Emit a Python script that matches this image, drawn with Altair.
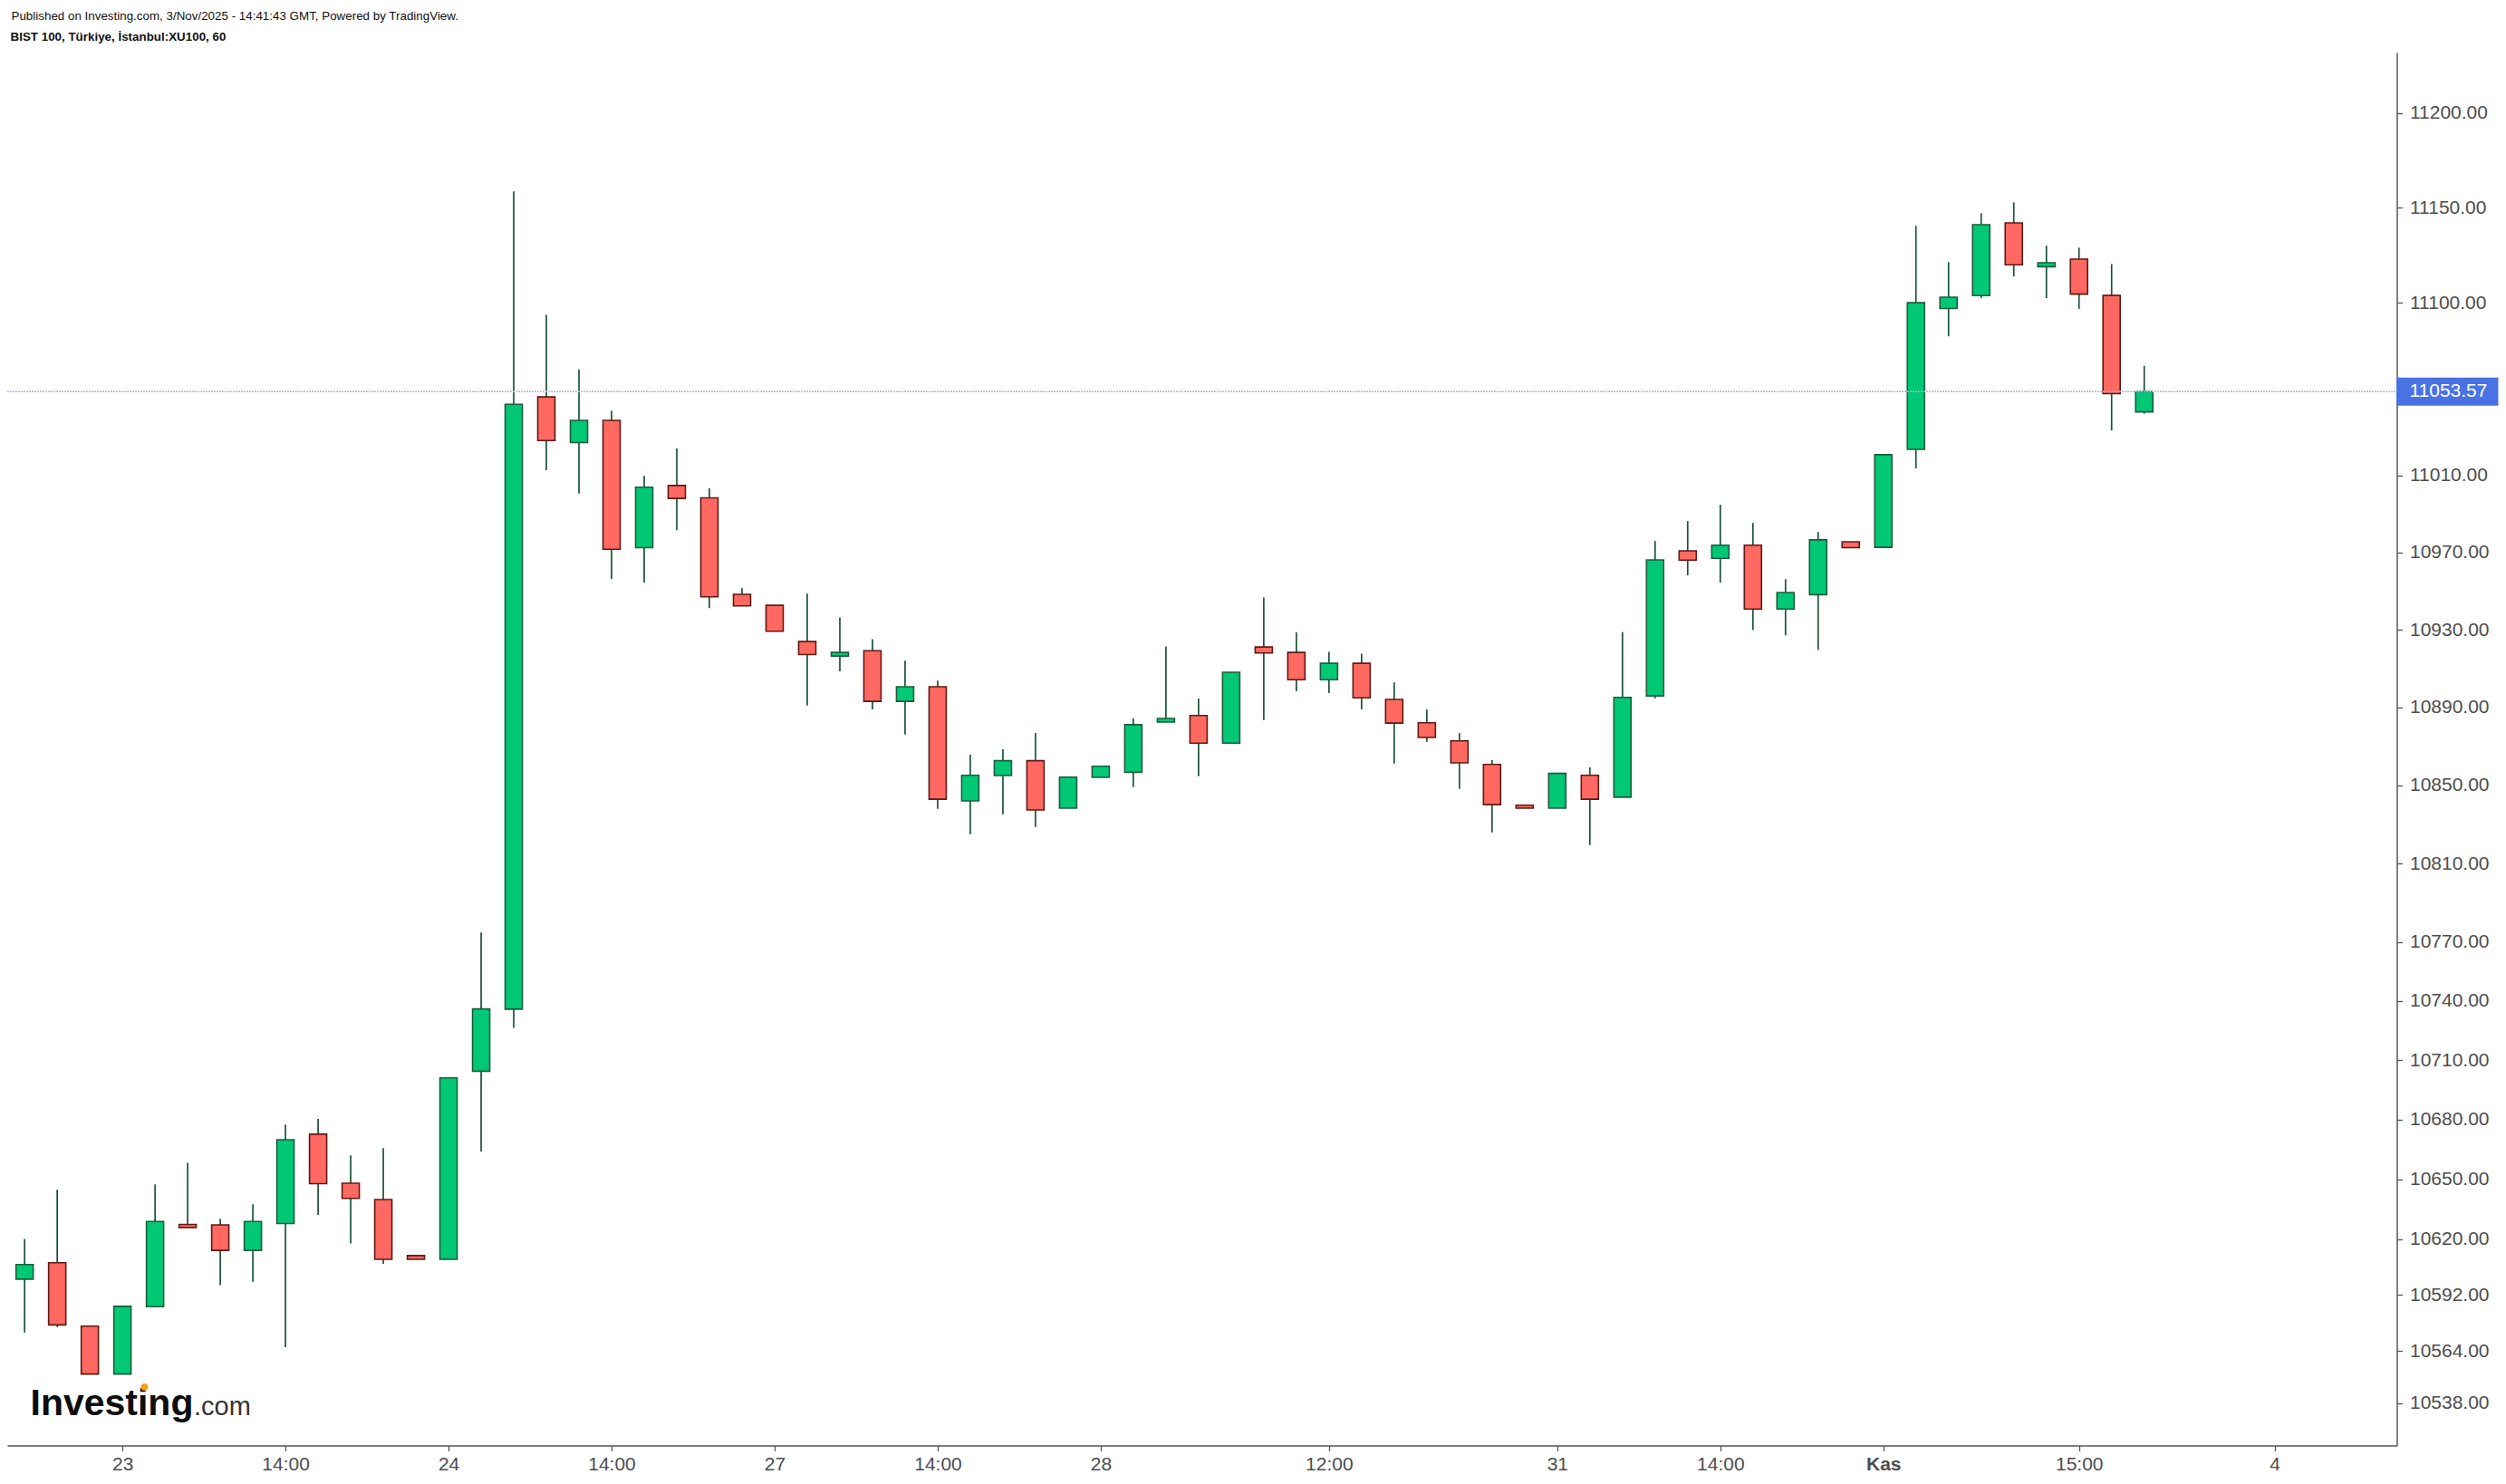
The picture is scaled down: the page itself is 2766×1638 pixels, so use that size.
import altair as alt
import pandas as pd

# ---- data (hourly candles, Oct 22 -> Nov 3) ----
opens = [10599.9, 10608.1, 10576.4, 10552.5, 10586.1, 10627.3, 10627.1, 10614.3, 10627.8, 10672.7,
         10648.0, 10639.8, 10611.7, 10609.8, 10704.5, 10735.9, 11050.8, 11027.0, 11038.6, 10972.4,
         11004.7, 10998.3, 10948.3, 10942.6, 10923.9, 10916.4, 10919.2, 10893.1, 10900.6, 10842.0,
         10855.0, 10862.6, 10838.3, 10854.1, 10856.7, 10882.5, 10885.8, 10871.6, 10921.1, 10918.3,
         10904.2, 10912.7, 10894.1, 10882.1, 10872.8, 10860.7, 10839.8, 10838.3, 10855.1, 10843.9,
         10895.9, 10970.8, 10966.9, 10973.7, 10940.7, 10948.1, 10975.5, 10972.6, 11023.5, 11097.1,
         11103.8, 11142.0, 11119.0, 11123.0, 11103.9, 11043.0]
highs = [10620.0, 10644.7, 10576.4, 10586.3, 10647.4, 10658.3, 10630.2, 10637.4, 10677.6, 10680.4,
         10662.0, 10665.7, 10611.7, 10701.1, 10774.8, 11158.6, 11093.8, 11065.2, 11043.6, 11009.7,
         11023.9, 11003.2, 10951.4, 10942.6, 10948.6, 10936.4, 10925.1, 10914.0, 10903.8, 10865.7,
         10868.5, 10876.8, 10854.2, 10859.8, 10884.3, 10921.4, 10894.5, 10908.1, 10946.7, 10928.8,
         10918.6, 10917.7, 10902.8, 10888.9, 10876.8, 10862.9, 10839.8, 10856.1, 10859.2, 10928.8,
         10975.9, 10986.2, 10994.7, 10985.3, 10956.1, 10980.6, 10975.5, 11020.7, 11140.5, 11121.4,
         11147.1, 11152.8, 11130.0, 11129.0, 11120.4, 11067.1]
lows = [10573.2, 10575.9, 10552.5, 10552.5, 10586.1, 10625.8, 10596.9, 10598.6, 10565.9, 10632.1,
        10617.8, 10607.6, 10609.8, 10609.8, 10664.0, 10726.4, 11012.6, 11000.5, 10956.3, 10954.4,
        10981.5, 10941.2, 10942.3, 10929.2, 10890.9, 10908.5, 10889.0, 10876.0, 10838.0, 10825.0,
        10835.2, 10828.7, 10838.3, 10854.1, 10849.1, 10882.5, 10854.7, 10871.6, 10883.5, 10898.3,
        10897.4, 10889.0, 10861.2, 10872.3, 10848.2, 10825.9, 10838.3, 10838.3, 10819.4, 10843.9,
        10894.6, 10958.1, 10954.4, 10929.9, 10927.1, 10919.5, 10972.4, 10972.6, 11013.6, 11082.5,
        11102.5, 11113.9, 11102.5, 11096.8, 11033.4, 11042.1]
closes = [10607.2, 10577.0, 10552.5, 10586.3, 10628.8, 10625.8, 10614.3, 10628.8, 10669.9, 10647.8,
          10640.4, 10609.8, 10609.8, 10701.1, 10736.0, 11047.0, 11028.1, 11038.6, 10971.6, 11003.8,
          10998.0, 10947.0, 10942.3, 10929.2, 10917.2, 10918.3, 10893.1, 10900.6, 10842.9, 10855.1,
          10862.6, 10837.4, 10854.2, 10859.8, 10881.1, 10884.3, 10871.6, 10908.1, 10918.0, 10904.2,
          10912.7, 10894.9, 10881.9, 10874.5, 10861.5, 10840.1, 10838.3, 10856.1, 10842.9, 10895.1,
          10966.1, 10966.0, 10973.7, 10940.7, 10949.2, 10976.5, 10972.4, 11020.7, 11100.1, 11103.0,
          11141.1, 11120.0, 11121.1, 11104.6, 11052.5, 11053.57]

tick_idx = [3, 8, 13, 18, 23, 28, 33, 40, 47, 52, 57, 63, 69]
tick_labels = ["23", "14:00", "24", "14:00", "27", "14:00", "28", "12:00", "31", "14:00", "Kas", "15:00", "4"]
bold_tick = 57
y_ticks = [10538, 10564, 10592, 10620, 10650, 10680, 10710, 10740, 10770, 10810,
           10850, 10890, 10930, 10970, 11010, 11100, 11150, 11200]
last_price = 11053.57

title_line = "Published on Investing.com, 3/Nov/2025 - 14:41:43 GMT, Powered by TradingView."
subtitle_line = "BIST 100, Türkiye, İstanbul:XU100, 60"
logo_main = "Investing"
logo_tail = ".com"

# ---- styling ----
W, H = 2637.5, 1537.4
UP, DOWN = "#00c875", "#ff6961"
UP_B, DOWN_B = "#1d5c3d", "#5e1a15"
WICK = "#1a5437"
AXC = "#555555"
LAB = "#4d4d4d"
FONT = "Liberation Sans"
NARROW = "Liberation Sans Narrow, Arial Narrow, Liberation Sans, Arial, sans-serif"

df = pd.DataFrame({"i": list(range(len(opens))), "open": opens, "high": highs,
                   "low": lows, "close": closes})
df["dir"] = ["up" if c >= o else "down" for o, c in zip(opens, closes)]

xscale = alt.Scale(domain=[-0.393, 72.607], nice=False, zero=False)
yscale = alt.Scale(type="log", domain=[10517.0, 11232.0], nice=False, zero=False)

parts = [f"datum.value == {i} ? '{l}'" for i, l in zip(tick_idx, tick_labels)]
label_expr = " : ".join(parts) + " : ''"

xaxis = alt.Axis(values=tick_idx, labelExpr=label_expr, grid=False, title=None,
                 domainColor=AXC, domainWidth=1.5, tickColor=AXC, tickWidth=1.3, tickSize=6,
                 labelFont=FONT, labelFontSize=21, labelColor=LAB, labelPadding=4,
                 labelFlush=False, labelOverlap=False,
                 labelFontWeight={"condition": {"test": f"datum.value == {bold_tick}", "value": "bold"},
                                  "value": "normal"})
yaxis = alt.Axis(orient="right", values=y_ticks, format=".2f", grid=False, title=None,
                 domainColor=AXC, domainWidth=1.5, tickColor=AXC, tickWidth=1.3, tickSize=6,
                 labelFont=FONT, labelFontSize=21, labelColor=LAB, labelPadding=8,
                 labelOverlap=False, labelBaseline="middle")

wicks = alt.Chart(df).mark_rule(color=WICK, strokeWidth=1.7).encode(
    x=alt.X("i:Q", scale=xscale, axis=xaxis, title=None),
    y=alt.Y("low:Q", scale=yscale, axis=yaxis, title=None),
    y2="high:Q",
)

bodies = alt.Chart(df).mark_bar(size=19, strokeWidth=1.6).encode(
    x=alt.X("i:Q", title=None),
    y=alt.Y("open:Q", title=None),
    y2="close:Q",
    fill=alt.Fill("dir:N", scale=alt.Scale(domain=["up", "down"], range=[UP, DOWN]), legend=None),
    stroke=alt.Stroke("dir:N", scale=alt.Scale(domain=["up", "down"], range=[UP_B, DOWN_B]), legend=None),
)

price_df = pd.DataFrame({"p": [last_price]})
price_line = alt.Chart(price_df).mark_rule(color="#a3b6f2", strokeWidth=1.4, strokeDash=[2, 1]).encode(
    y=alt.Y("p:Q", title=None), x=alt.value(0), x2=alt.value(W))
price_box = alt.Chart(price_df).mark_rule(color="#4a72e5", strokeWidth=31, strokeCap="butt").encode(
    y=alt.Y("p:Q", title=None), x=alt.value(W - 0.5), x2=alt.value(W + 112))
price_txt = alt.Chart(price_df).mark_text(align="left", baseline="middle", fontSize=21,
                                          font=FONT, color="white").encode(
    y=alt.Y("p:Q", title=None), x=alt.value(W + 14), text=alt.Text("p:Q", format=".2f"))

t1 = alt.Chart(pd.DataFrame({"t": [title_line]})).mark_text(
    align="left", baseline="alphabetic", fontSize=13.4, font=NARROW,
    color="#111111").encode(x=alt.value(4.5), y=alt.value(-36.0), text="t:N")
t2 = alt.Chart(pd.DataFrame({"t": [subtitle_line]})).mark_text(
    align="left", baseline="alphabetic", fontSize=13.4, font=NARROW,
    fontWeight="bold", color="#111111").encode(x=alt.value(3.5), y=alt.value(-12.8), text="t:N")

logo1 = alt.Chart(pd.DataFrame({"t": [logo_main]})).mark_text(
    align="left", baseline="alphabetic", fontSize=41, font=FONT, fontWeight="bold",
    color="#0d0d0d").encode(x=alt.value(25.5), y=alt.value(1504.0), text="t:N")
logo2 = alt.Chart(pd.DataFrame({"t": [logo_tail]})).mark_text(
    align="left", baseline="alphabetic", fontSize=29, font=FONT,
    color="#333333").encode(x=alt.value(206.0), y=alt.value(1504.0), text="t:N")
dot = alt.Chart(pd.DataFrame({"t": ["dot"]})).mark_point(
    filled=True, shape="circle", size=60, color="#f6a01a", opacity=1).encode(
    x=alt.value(151.5), y=alt.value(1473.0))

chart = alt.layer(wicks, bodies, price_line, price_box, price_txt, t1, t2, logo1, logo2, dot).properties(
    width=W, height=H,
    autosize=alt.AutoSizeParams(type="none"),
    padding={"left": 0, "top": 50, "right": 112, "bottom": 32},
    background="white",
).configure_view(stroke=None)

chart.save("out.html", embed_options={"renderer": "svg", "actions": False})
